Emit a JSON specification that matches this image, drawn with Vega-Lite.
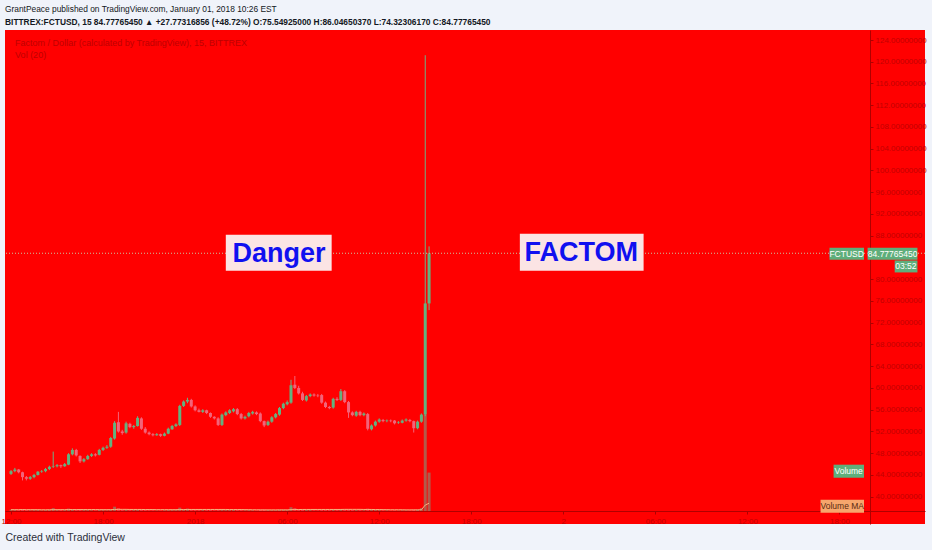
{
"$schema": "https://vega.github.io/schema/vega-lite/v6.json",
"width": 920,
"height": 494,
"autosize": {"type": "none"},
"padding": {"left": 5, "top": 30, "right": 7, "bottom": 26},
"background": "#f0f3fa",
"config": {"view": {"fill": "#ff0000", "stroke": null}, "font": "Liberation Sans"},
"title": {
  "text": "GrantPeace published on TradingView.com, January 01, 2018 10:26 EST",
  "subtitle": "BITTREX:FCTUSD, 15  84.77765450 ▲ +27.77316856 (+48.72%)  O:75.54925000  H:86.04650370  L:74.32306170  C:84.77765450",
  "anchor": "start", "frame": "group", "orient": "top", "offset": 4,
  "font": "Liberation Sans", "fontSize": 8.4, "fontWeight": "normal", "color": "#131722",
  "subtitleFont": "Liberation Sans", "subtitleFontSize": 8.4, "subtitleFontWeight": "bold", "subtitleColor": "#131722", "subtitlePadding": 4
},
"datasets": {
  "boxes": [
    {"name": "Danger", "t1": "2018-01-01T02:00:00Z", "t2": "2018-01-01T08:54:00Z", "p1": 88.19, "p2": 81.57},
    {"name": "FACTOM", "t1": "2018-01-01T21:10:00Z", "t2": "2018-01-02T05:14:00Z", "p1": 88.37, "p2": 81.57},
    {"name": "FCTUSD", "t1": "2018-01-02T17:21:00Z", "t2": "2018-01-02T19:36:00Z", "p1": 85.8, "p2": 83.6},
    {"name": "Price", "t1": "2018-01-02T19:50:00Z", "t2": "2018-01-02T23:05:00Z", "p1": 85.8, "p2": 83.6},
    {"name": "Timer", "t1": "2018-01-02T21:36:00Z", "t2": "2018-01-02T23:05:00Z", "p1": 83.45, "p2": 81.25},
    {"name": "Volume", "t1": "2018-01-02T17:37:00Z", "t2": "2018-01-02T19:36:00Z", "p1": 45.89, "p2": 43.49},
    {"name": "Volume MA", "t1": "2018-01-02T16:46:00Z", "t2": "2018-01-02T19:36:00Z", "p1": 39.45, "p2": 37.06}
  ],
  "labels": [
    {"kind": "big", "label": "Danger", "t": "2018-01-01T05:28:00Z", "p": 84.88},
    {"kind": "big", "label": "FACTOM", "t": "2018-01-02T01:10:00Z", "p": 84.95},
    {"kind": "tag", "label": "FCTUSD", "t": "2018-01-02T18:28:00Z", "p": 84.7},
    {"kind": "tag", "label": "84.77765450", "t": "2018-01-02T21:28:00Z", "p": 84.7},
    {"kind": "tag", "label": "03:52", "t": "2018-01-02T22:20:00Z", "p": 82.35},
    {"kind": "tag", "label": "Volume", "t": "2018-01-02T18:36:00Z", "p": 44.69},
    {"kind": "ma", "label": "Volume MA", "t": "2018-01-02T18:11:00Z", "p": 38.25},
    {"kind": "legend", "label": "Factom / Dollar (calculated by TradingView), 15, BITTREX", "t": "2017-12-31T12:16:00Z", "p": 123.5},
    {"kind": "legend", "label": "Vol (20)", "t": "2017-12-31T12:16:00Z", "p": 121.3}
  ]
},
"data": {"values": [
{"t":"2017-12-31T12:00:00Z","o":44.2,"h":44.9,"l":44.0,"c":44.7,"v":1.5,"ma":1.4},
{"t":"2017-12-31T12:15:00Z","o":44.7,"h":45.3,"l":44.5,"c":45.0,"v":1.2,"ma":1.4},
{"t":"2017-12-31T12:30:00Z","o":45.0,"h":45.1,"l":44.3,"c":44.5,"v":1.0,"ma":1.4},
{"t":"2017-12-31T12:45:00Z","o":44.5,"h":44.6,"l":43.0,"c":43.6,"v":2.0,"ma":1.5},
{"t":"2017-12-31T13:00:00Z","o":43.6,"h":43.8,"l":43.0,"c":43.3,"v":1.0,"ma":1.4},
{"t":"2017-12-31T13:15:00Z","o":43.3,"h":43.8,"l":43.1,"c":43.6,"v":0.8,"ma":1.4},
{"t":"2017-12-31T13:30:00Z","o":43.6,"h":44.2,"l":43.4,"c":44.0,"v":1.0,"ma":1.4},
{"t":"2017-12-31T13:45:00Z","o":44.0,"h":44.7,"l":43.9,"c":44.6,"v":1.2,"ma":1.4},
{"t":"2017-12-31T14:00:00Z","o":44.6,"h":44.9,"l":44.4,"c":44.7,"v":0.8,"ma":1.3},
{"t":"2017-12-31T14:15:00Z","o":44.7,"h":45.3,"l":44.5,"c":45.1,"v":1.0,"ma":1.3},
{"t":"2017-12-31T14:30:00Z","o":45.1,"h":45.7,"l":44.9,"c":45.5,"v":1.5,"ma":1.3},
{"t":"2017-12-31T14:45:00Z","o":45.5,"h":48.3,"l":45.3,"c":45.6,"v":3.0,"ma":1.4},
{"t":"2017-12-31T15:00:00Z","o":45.6,"h":46.0,"l":45.4,"c":45.8,"v":1.0,"ma":1.4},
{"t":"2017-12-31T15:15:00Z","o":45.8,"h":45.9,"l":45.3,"c":45.6,"v":1.5,"ma":1.4},
{"t":"2017-12-31T15:30:00Z","o":45.6,"h":46.2,"l":45.5,"c":46.0,"v":1.0,"ma":1.4},
{"t":"2017-12-31T15:45:00Z","o":45.9,"h":48.0,"l":45.8,"c":47.8,"v":2.5,"ma":1.5},
{"t":"2017-12-31T16:00:00Z","o":47.8,"h":48.9,"l":47.6,"c":48.6,"v":2.0,"ma":1.5},
{"t":"2017-12-31T16:15:00Z","o":48.6,"h":48.8,"l":47.4,"c":47.6,"v":1.5,"ma":1.5},
{"t":"2017-12-31T16:30:00Z","o":47.5,"h":47.6,"l":46.2,"c":46.5,"v":2.0,"ma":1.5},
{"t":"2017-12-31T16:45:00Z","o":46.5,"h":47.1,"l":46.3,"c":46.9,"v":1.0,"ma":1.5},
{"t":"2017-12-31T17:00:00Z","o":46.9,"h":47.7,"l":46.8,"c":47.5,"v":1.0,"ma":1.5},
{"t":"2017-12-31T17:15:00Z","o":47.5,"h":48.0,"l":47.3,"c":47.8,"v":0.8,"ma":1.5},
{"t":"2017-12-31T17:30:00Z","o":47.8,"h":48.0,"l":47.4,"c":47.6,"v":0.8,"ma":1.5},
{"t":"2017-12-31T17:45:00Z","o":47.7,"h":48.8,"l":47.6,"c":48.6,"v":1.2,"ma":1.4},
{"t":"2017-12-31T18:00:00Z","o":48.6,"h":49.2,"l":48.4,"c":49.0,"v":1.0,"ma":1.4},
{"t":"2017-12-31T18:15:00Z","o":49.0,"h":49.5,"l":48.8,"c":49.2,"v":0.8,"ma":1.4},
{"t":"2017-12-31T18:30:00Z","o":49.2,"h":51.0,"l":49.0,"c":50.8,"v":1.5,"ma":1.4},
{"t":"2017-12-31T18:45:00Z","o":50.7,"h":53.9,"l":50.5,"c":53.6,"v":4.5,"ma":1.6},
{"t":"2017-12-31T19:00:00Z","o":53.7,"h":55.6,"l":51.8,"c":52.0,"v":3.0,"ma":1.7},
{"t":"2017-12-31T19:15:00Z","o":52.0,"h":52.3,"l":51.4,"c":51.7,"v":1.5,"ma":1.7},
{"t":"2017-12-31T19:30:00Z","o":51.8,"h":53.8,"l":51.6,"c":53.5,"v":1.5,"ma":1.7},
{"t":"2017-12-31T19:45:00Z","o":53.4,"h":53.6,"l":52.6,"c":52.8,"v":1.0,"ma":1.6},
{"t":"2017-12-31T20:00:00Z","o":52.8,"h":53.2,"l":52.5,"c":53.0,"v":1.0,"ma":1.6},
{"t":"2017-12-31T20:15:00Z","o":53.0,"h":54.8,"l":52.9,"c":54.5,"v":1.5,"ma":1.6},
{"t":"2017-12-31T20:30:00Z","o":54.4,"h":54.6,"l":52.3,"c":52.5,"v":1.5,"ma":1.6},
{"t":"2017-12-31T20:45:00Z","o":52.5,"h":52.8,"l":51.6,"c":51.8,"v":1.2,"ma":1.5},
{"t":"2017-12-31T21:00:00Z","o":51.8,"h":52.0,"l":51.3,"c":51.5,"v":0.8,"ma":1.5},
{"t":"2017-12-31T21:15:00Z","o":51.5,"h":51.7,"l":51.1,"c":51.3,"v":0.8,"ma":1.5},
{"t":"2017-12-31T21:30:00Z","o":51.3,"h":51.7,"l":51.2,"c":51.5,"v":0.6,"ma":1.4},
{"t":"2017-12-31T21:45:00Z","o":51.5,"h":51.6,"l":51.0,"c":51.2,"v":0.6,"ma":1.4},
{"t":"2017-12-31T22:00:00Z","o":51.2,"h":51.8,"l":51.1,"c":51.6,"v":0.8,"ma":1.4},
{"t":"2017-12-31T22:15:00Z","o":51.6,"h":52.7,"l":51.5,"c":52.5,"v":1.0,"ma":1.4},
{"t":"2017-12-31T22:30:00Z","o":52.4,"h":53.2,"l":52.3,"c":53.0,"v":1.0,"ma":1.4},
{"t":"2017-12-31T22:45:00Z","o":53.0,"h":53.5,"l":52.8,"c":53.3,"v":1.0,"ma":1.4},
{"t":"2017-12-31T23:00:00Z","o":53.2,"h":56.9,"l":53.0,"c":56.7,"v":3.5,"ma":1.5},
{"t":"2017-12-31T23:15:00Z","o":56.7,"h":57.7,"l":56.5,"c":57.5,"v":2.0,"ma":1.5},
{"t":"2017-12-31T23:30:00Z","o":57.5,"h":58.2,"l":57.2,"c":57.8,"v":2.5,"ma":1.6},
{"t":"2017-12-31T23:45:00Z","o":57.8,"h":58.0,"l":56.4,"c":56.6,"v":2.0,"ma":1.6},
{"t":"2018-01-01T00:00:00Z","o":56.6,"h":56.8,"l":55.7,"c":55.9,"v":1.5,"ma":1.6},
{"t":"2018-01-01T00:15:00Z","o":55.9,"h":56.2,"l":55.5,"c":55.6,"v":1.0,"ma":1.6},
{"t":"2018-01-01T00:30:00Z","o":55.6,"h":56.1,"l":55.4,"c":55.9,"v":1.0,"ma":1.6},
{"t":"2018-01-01T00:45:00Z","o":55.9,"h":56.0,"l":55.2,"c":55.4,"v":1.0,"ma":1.6},
{"t":"2018-01-01T01:00:00Z","o":55.4,"h":55.5,"l":54.5,"c":54.7,"v":1.2,"ma":1.6},
{"t":"2018-01-01T01:15:00Z","o":54.7,"h":54.8,"l":54.2,"c":54.4,"v":0.8,"ma":1.6},
{"t":"2018-01-01T01:30:00Z","o":54.4,"h":54.6,"l":53.0,"c":53.2,"v":1.5,"ma":1.6},
{"t":"2018-01-01T01:45:00Z","o":53.2,"h":55.3,"l":53.0,"c":55.1,"v":1.5,"ma":1.6},
{"t":"2018-01-01T02:00:00Z","o":55.0,"h":55.7,"l":54.8,"c":55.5,"v":1.0,"ma":1.6},
{"t":"2018-01-01T02:15:00Z","o":55.4,"h":56.1,"l":55.2,"c":55.9,"v":1.0,"ma":1.5},
{"t":"2018-01-01T02:30:00Z","o":55.7,"h":56.3,"l":55.5,"c":56.1,"v":1.2,"ma":1.5},
{"t":"2018-01-01T02:45:00Z","o":56.1,"h":56.3,"l":55.0,"c":55.2,"v":1.2,"ma":1.5},
{"t":"2018-01-01T03:00:00Z","o":55.2,"h":55.4,"l":54.2,"c":54.4,"v":1.2,"ma":1.5},
{"t":"2018-01-01T03:15:00Z","o":54.4,"h":54.9,"l":54.2,"c":54.7,"v":0.8,"ma":1.4},
{"t":"2018-01-01T03:30:00Z","o":54.8,"h":55.6,"l":54.6,"c":55.4,"v":1.0,"ma":1.4},
{"t":"2018-01-01T03:45:00Z","o":55.3,"h":55.8,"l":55.1,"c":55.6,"v":0.8,"ma":1.3},
{"t":"2018-01-01T04:00:00Z","o":55.5,"h":55.7,"l":55.0,"c":55.2,"v":0.6,"ma":1.3},
{"t":"2018-01-01T04:15:00Z","o":55.3,"h":55.5,"l":53.7,"c":53.9,"v":1.5,"ma":1.2},
{"t":"2018-01-01T04:30:00Z","o":53.9,"h":54.0,"l":52.8,"c":53.1,"v":1.5,"ma":1.2},
{"t":"2018-01-01T04:45:00Z","o":53.2,"h":54.0,"l":53.0,"c":53.8,"v":1.0,"ma":1.2},
{"t":"2018-01-01T05:00:00Z","o":53.8,"h":54.8,"l":53.6,"c":54.6,"v":1.0,"ma":1.2},
{"t":"2018-01-01T05:15:00Z","o":54.6,"h":55.4,"l":54.4,"c":55.2,"v":1.0,"ma":1.2},
{"t":"2018-01-01T05:30:00Z","o":55.1,"h":56.5,"l":54.9,"c":56.3,"v":1.5,"ma":1.2},
{"t":"2018-01-01T05:45:00Z","o":56.3,"h":57.3,"l":56.1,"c":57.1,"v":1.5,"ma":1.2},
{"t":"2018-01-01T06:00:00Z","o":57.0,"h":57.7,"l":56.8,"c":57.4,"v":1.0,"ma":1.2},
{"t":"2018-01-01T06:15:00Z","o":57.3,"h":61.5,"l":57.1,"c":60.5,"v":4.0,"ma":1.4},
{"t":"2018-01-01T06:30:00Z","o":60.6,"h":62.2,"l":59.8,"c":60.0,"v":3.0,"ma":1.5},
{"t":"2018-01-01T06:45:00Z","o":60.0,"h":60.4,"l":58.8,"c":59.0,"v":2.0,"ma":1.5},
{"t":"2018-01-01T07:00:00Z","o":59.0,"h":59.3,"l":57.6,"c":57.8,"v":2.0,"ma":1.6},
{"t":"2018-01-01T07:15:00Z","o":57.7,"h":58.7,"l":57.5,"c":58.5,"v":1.2,"ma":1.6},
{"t":"2018-01-01T07:30:00Z","o":58.5,"h":59.0,"l":58.3,"c":58.8,"v":1.0,"ma":1.6},
{"t":"2018-01-01T07:45:00Z","o":58.8,"h":59.0,"l":58.4,"c":58.6,"v":0.8,"ma":1.6},
{"t":"2018-01-01T08:00:00Z","o":58.6,"h":58.9,"l":58.3,"c":58.5,"v":0.8,"ma":1.6},
{"t":"2018-01-01T08:15:00Z","o":58.7,"h":58.9,"l":57.1,"c":57.3,"v":1.5,"ma":1.6},
{"t":"2018-01-01T08:30:00Z","o":57.3,"h":57.5,"l":56.3,"c":56.5,"v":1.5,"ma":1.6},
{"t":"2018-01-01T08:45:00Z","o":56.5,"h":56.7,"l":56.1,"c":56.3,"v":1.0,"ma":1.6},
{"t":"2018-01-01T09:00:00Z","o":56.4,"h":58.2,"l":56.2,"c":58.0,"v":1.5,"ma":1.6},
{"t":"2018-01-01T09:15:00Z","o":58.0,"h":58.3,"l":57.6,"c":57.8,"v":1.0,"ma":1.6},
{"t":"2018-01-01T09:30:00Z","o":57.8,"h":59.8,"l":57.6,"c":59.4,"v":2.0,"ma":1.6},
{"t":"2018-01-01T09:45:00Z","o":59.4,"h":59.6,"l":57.2,"c":57.4,"v":2.0,"ma":1.7},
{"t":"2018-01-01T10:00:00Z","o":57.4,"h":57.6,"l":54.5,"c":55.5,"v":2.0,"ma":1.7},
{"t":"2018-01-01T10:15:00Z","o":55.5,"h":55.7,"l":54.8,"c":55.0,"v":1.2,"ma":1.7},
{"t":"2018-01-01T10:30:00Z","o":54.9,"h":55.8,"l":54.7,"c":55.6,"v":1.0,"ma":1.7},
{"t":"2018-01-01T10:45:00Z","o":55.6,"h":55.8,"l":54.8,"c":55.0,"v":1.0,"ma":1.7},
{"t":"2018-01-01T11:00:00Z","o":55.0,"h":55.5,"l":54.8,"c":55.3,"v":0.8,"ma":1.6},
{"t":"2018-01-01T11:15:00Z","o":55.2,"h":55.4,"l":52.2,"c":52.5,"v":2.5,"ma":1.6},
{"t":"2018-01-01T11:30:00Z","o":52.4,"h":53.3,"l":52.2,"c":53.1,"v":2.0,"ma":1.6},
{"t":"2018-01-01T11:45:00Z","o":53.1,"h":54.0,"l":52.9,"c":53.8,"v":1.2,"ma":1.5},
{"t":"2018-01-01T12:00:00Z","o":53.8,"h":54.4,"l":53.6,"c":54.2,"v":1.0,"ma":1.5},
{"t":"2018-01-01T12:15:00Z","o":54.1,"h":54.3,"l":53.7,"c":53.9,"v":0.8,"ma":1.4},
{"t":"2018-01-01T12:30:00Z","o":53.9,"h":54.2,"l":53.7,"c":54.0,"v":0.8,"ma":1.4},
{"t":"2018-01-01T12:45:00Z","o":54.0,"h":54.2,"l":53.7,"c":53.9,"v":0.6,"ma":1.3},
{"t":"2018-01-01T13:00:00Z","o":54.0,"h":54.1,"l":53.3,"c":53.5,"v":0.8,"ma":1.3},
{"t":"2018-01-01T13:15:00Z","o":53.6,"h":53.9,"l":53.4,"c":53.7,"v":0.6,"ma":1.3},
{"t":"2018-01-01T13:30:00Z","o":53.6,"h":54.2,"l":53.5,"c":54.0,"v":0.8,"ma":1.3},
{"t":"2018-01-01T13:45:00Z","o":54.0,"h":54.4,"l":53.8,"c":54.2,"v":0.8,"ma":1.2},
{"t":"2018-01-01T14:00:00Z","o":54.1,"h":54.3,"l":53.7,"c":53.9,"v":0.8,"ma":1.2},
{"t":"2018-01-01T14:15:00Z","o":53.9,"h":54.0,"l":51.8,"c":52.6,"v":1.5,"ma":1.2},
{"t":"2018-01-01T14:30:00Z","o":52.6,"h":54.0,"l":52.4,"c":53.8,"v":1.5,"ma":1.2},
{"t":"2018-01-01T14:45:00Z","o":53.8,"h":55.3,"l":53.6,"c":55.1,"v":3.0,"ma":1.3},
{"t":"2018-01-01T15:00:00Z","o":55.1,"h":121.2,"l":54.8,"c":75.55,"v":100,"ma":6.2},
{"t":"2018-01-01T15:15:00Z","o":75.54925,"h":86.0465037,"l":74.3230617,"c":84.7776545,"v":40,"ma":8.1}
]},
"encoding": {
  "x": {"field": "t", "type": "temporal",
    "scale": {"type": "utc", "domain": [1514721360000, 1514934900000]},
    "axis": {
      "orient": "bottom", "offset": -13, "grid": false, "tickCount": 40,
      "values": [1514721600000, 1514743200000, 1514764800000, 1514786400000, 1514808000000, 1514829600000, 1514851200000, 1514872800000, 1514894400000, 1514916000000],
      "labelExpr": "utchours(datum.value) == 0 ? (utcdate(datum.value) == 1 ? '2018' : utcFormat(datum.value, '%-d')) : utcFormat(datum.value, '%H:%M')",
      "labelColor": "#c20000", "labelFontSize": 8, "labelPadding": 3, "labelOverlap": false,
      "domainColor": "#b00000", "tickColor": "#b00000", "tickSize": 3,
      "title": "Created with  TradingView", "titleAnchor": "start", "titleAlign": "left",
      "titleX": 0, "titleY": 26, "titleBaseline": "middle", "titleFontSize": 10.5,
      "titleFontWeight": "normal", "titleColor": "#2a2e39"
    }
  }
},
"layer": [
  {"layer": [
    {"mark": {"type": "bar", "width": 3},
     "encoding": {
       "y": {"field": "v", "type": "quantitative", "scale": {"domain": [-13.54, 501], "nice": false, "zero": false}, "axis": null},
       "y2": {"datum": 0},
       "color": {"condition": {"test": "datum.c >= datum.o", "value": "#b35a4a"}, "value": "#ee3a42"}
     }},
    {"mark": {"type": "line", "color": "#f6b27e", "strokeWidth": 1},
     "encoding": {"y": {"field": "ma", "type": "quantitative"}}}
  ]},
  {"layer": [
    {"mark": {"type": "rule", "strokeWidth": 1},
     "encoding": {
       "y": {"field": "l", "type": "quantitative", "scale": {"domain": [34.98, 125.84], "nice": false, "zero": false},
         "axis": {"orient": "right", "offset": -55, "tickCount": 40, "values": [40,44,48,52,56,60,64,68,72,76,80,88,92,96,100,104,108,112,116,120,124],
           "format": ".8f", "labelColor": "#c20000", "labelFontSize": 8, "labelPadding": 2, "labelOverlap": false,
           "domainColor": "#b00000", "tickColor": "#b00000", "tickSize": 3, "grid": false, "title": null}},
       "y2": {"field": "h"},
       "color": {"condition": {"test": "datum.c >= datum.o", "value": "#6cb487"}, "value": "#f2647a"}
     }},
    {"mark": {"type": "bar", "width": 3},
     "encoding": {
       "y": {"field": "o", "type": "quantitative"},
       "y2": {"field": "c"},
       "color": {"condition": {"test": "datum.c >= datum.o", "value": "#63b27f"}, "value": "#f2647a"}
     }},
    {"data": {"values": [{}]},
     "mark": {"type": "rule", "color": "#c9c4a0", "strokeDash": [1, 2], "strokeWidth": 1},
     "encoding": {"x": null, "y": {"datum": 84.7776545, "type": "quantitative"}}},
    {"data": {"name": "boxes"},
     "mark": {"type": "rect"},
     "encoding": {
       "x": {"field": "t1", "type": "temporal"},
       "x2": {"field": "t2"},
       "y": {"field": "p1", "type": "quantitative"},
       "y2": {"field": "p2"},
       "color": {"field": "name", "type": "nominal", "legend": null,
         "scale": {"domain": ["Danger", "FACTOM", "FCTUSD", "Price", "Timer", "Volume", "Volume MA"],
                   "range": ["#fbe4e4", "#fbe4e4", "#5fae7b", "#5fae7b", "#5fae7b", "#5fae7b", "#f7a66c"]}}}},
    {"data": {"name": "labels"},
     "transform": [{"filter": "datum.kind == 'big'"}],
     "mark": {"type": "text", "align": "center", "baseline": "middle", "fontSize": 27, "fontWeight": "bold", "color": "#1010f0", "dy": 1},
     "encoding": {
       "x": {"field": "t", "type": "temporal"},
       "y": {"field": "p", "type": "quantitative"},
       "text": {"field": "label"}}},
    {"data": {"name": "labels"},
     "transform": [{"filter": "datum.kind == 'tag'"}],
     "mark": {"type": "text", "align": "center", "baseline": "middle", "fontSize": 8.5, "color": "#ffffff"},
     "encoding": {
       "x": {"field": "t", "type": "temporal"},
       "y": {"field": "p", "type": "quantitative"},
       "text": {"field": "label"}}},
    {"data": {"name": "labels"},
     "transform": [{"filter": "datum.kind == 'ma'"}],
     "mark": {"type": "text", "align": "center", "baseline": "middle", "fontSize": 8.5, "color": "#5a2a10"},
     "encoding": {
       "x": {"field": "t", "type": "temporal"},
       "y": {"field": "p", "type": "quantitative"},
       "text": {"field": "label"}}},
    {"data": {"name": "labels"},
     "transform": [{"filter": "datum.kind == 'legend'"}],
     "mark": {"type": "text", "align": "left", "baseline": "middle", "fontSize": 9, "color": "#bd0000"},
     "encoding": {
       "x": {"field": "t", "type": "temporal"},
       "y": {"field": "p", "type": "quantitative"},
       "text": {"field": "label"}}}
  ]}
],
"resolve": {"scale": {"y": "independent"}}
}
